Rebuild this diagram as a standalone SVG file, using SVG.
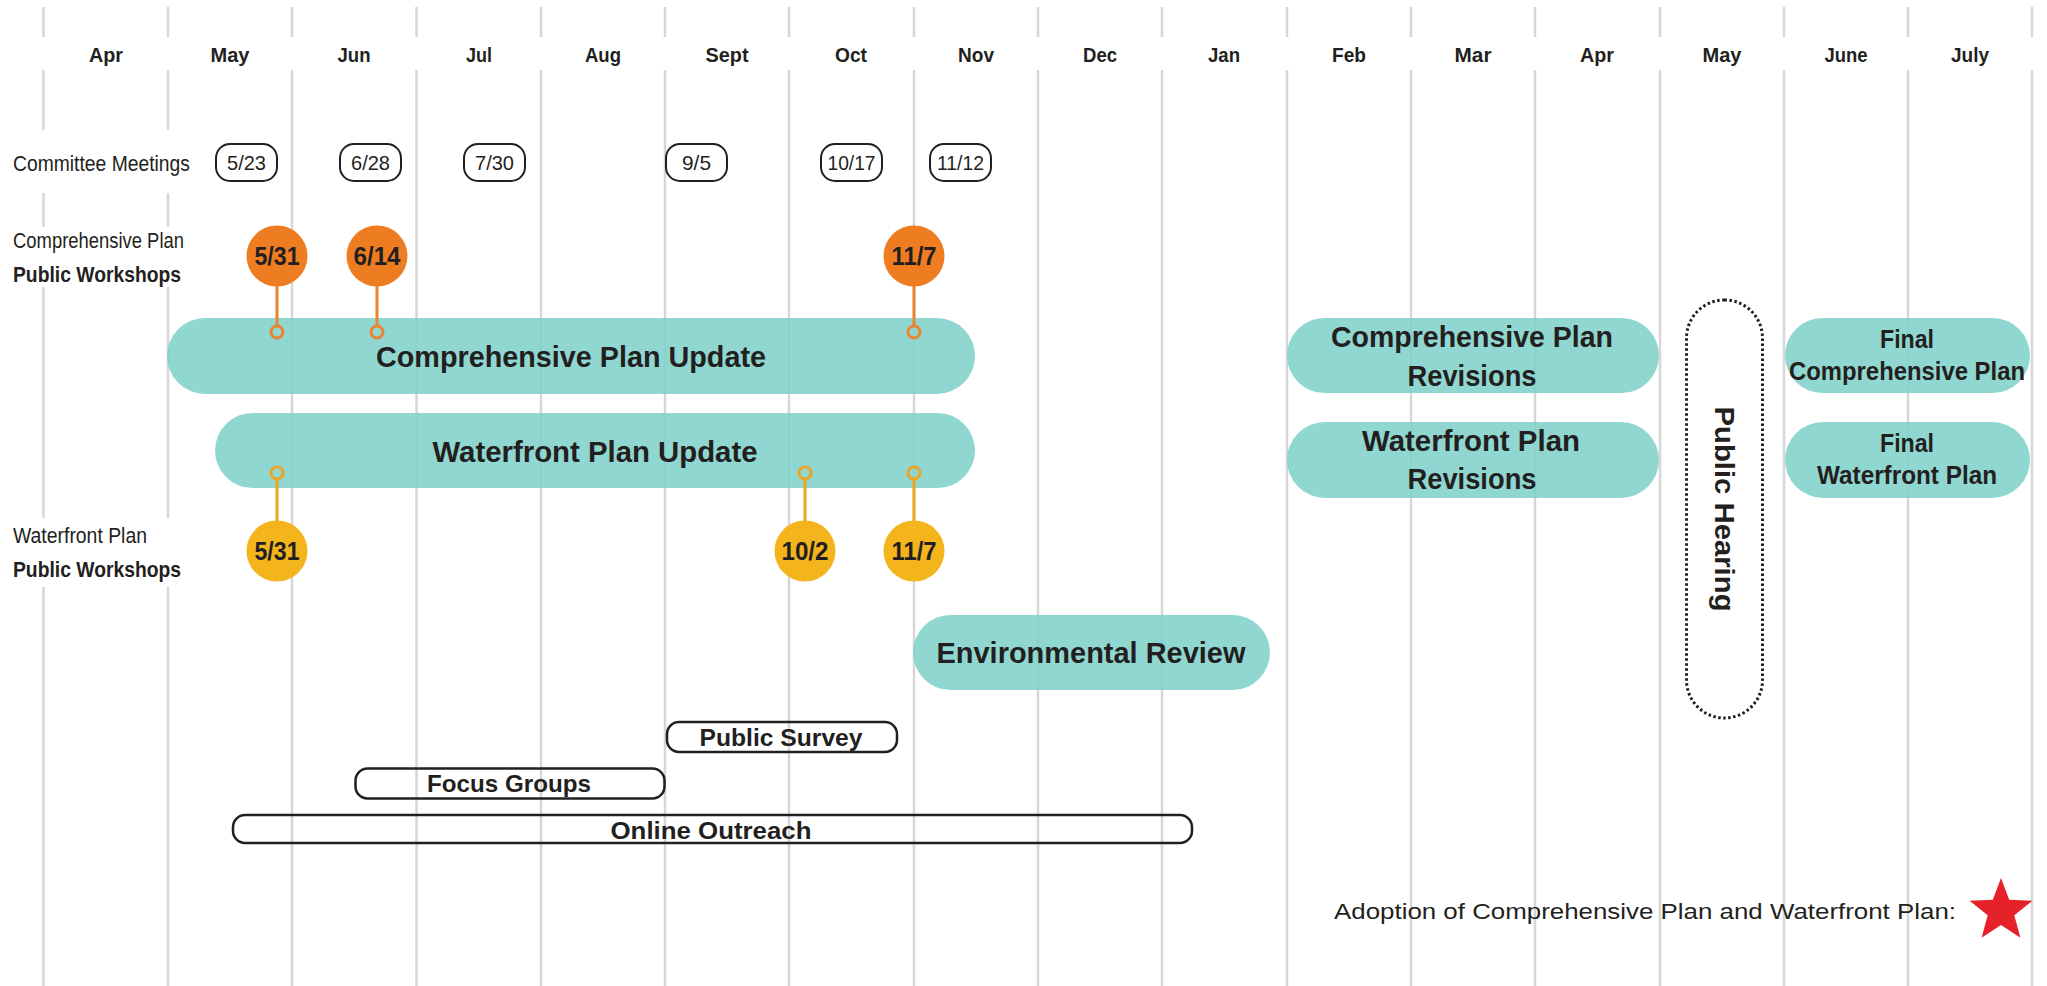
<svg xmlns="http://www.w3.org/2000/svg" width="2047" height="986" viewBox="0 0 2047 986">
<style>
.grid{stroke:#d6d6d6;stroke-width:2.5;fill:none}
.mon{font-family:"Liberation Sans",Arial,sans-serif;font-weight:bold;font-size:21px;fill:#231f20;text-anchor:middle}
.lbl{font-family:"Liberation Sans",Arial,sans-serif;font-size:22px;fill:#231f20}
.lblb{font-family:"Liberation Sans",Arial,sans-serif;font-weight:bold;font-size:22px;fill:#231f20}
.cm{fill:#fff;stroke:#231f20;stroke-width:2}
.cmt{font-family:"Liberation Sans",Arial,sans-serif;font-size:21px;fill:#231f20;text-anchor:middle}
.oc{fill:#ee7d22}
.yc{fill:#f3b41c}
.dt{font-family:"Liberation Sans",Arial,sans-serif;font-weight:bold;font-size:25px;fill:#231f20;text-anchor:middle}
.teal{fill:#80d2ca;fill-opacity:0.88}
.tt{font-family:"Liberation Sans",Arial,sans-serif;font-weight:bold;font-size:30px;fill:#231f20;text-anchor:middle}
.ts{font-family:"Liberation Sans",Arial,sans-serif;font-weight:bold;font-size:25px;fill:#231f20;text-anchor:middle}
.op{fill:none;stroke:#231f20;stroke-width:2.5}
.ot{font-family:"Liberation Sans",Arial,sans-serif;font-weight:bold;font-size:24px;fill:#231f20;text-anchor:middle}
.ostem{stroke:#ea8431;stroke-width:3;fill:none}
.ystem{stroke:#eda522;stroke-width:3;fill:none}
</style>
<rect x="0" y="0" width="2047" height="986" fill="#fff"/>
<g id="grid">
<path class="grid" d="M43.5 7V37M43.5 70V130M43.5 193V227M43.5 287V518M43.5 587V986"/>
<path class="grid" d="M168 7V37M168 70V130M168 193V227M168 287V518M168 587V986"/>
<path class="grid" d="M292 7V37M292 70V986M416.5 7V37M416.5 70V986M541 7V37M541 70V986M665 7V37M665 70V986M789 7V37M789 70V986M914 7V37M914 70V986M1038 7V37M1038 70V986M1162 7V37M1162 70V986M1287 7V37M1287 70V986M1411 7V37M1411 70V986M1535 7V37M1535 70V986M1660 7V37M1660 70V986M1784 7V37M1784 70V986M1908 7V37M1908 70V986M2032 7V37M2032 70V986"/>
</g>
<g id="months">
<text class="mon" x="106" y="62" textLength="34" lengthAdjust="spacingAndGlyphs">Apr</text>
<text class="mon" x="230" y="62" textLength="39" lengthAdjust="spacingAndGlyphs">May</text>
<text class="mon" x="354" y="62" textLength="33" lengthAdjust="spacingAndGlyphs">Jun</text>
<text class="mon" x="479" y="62" textLength="26" lengthAdjust="spacingAndGlyphs">Jul</text>
<text class="mon" x="603" y="62" textLength="36" lengthAdjust="spacingAndGlyphs">Aug</text>
<text class="mon" x="727" y="62" textLength="43" lengthAdjust="spacingAndGlyphs">Sept</text>
<text class="mon" x="851" y="62" textLength="32" lengthAdjust="spacingAndGlyphs">Oct</text>
<text class="mon" x="976" y="62" textLength="36" lengthAdjust="spacingAndGlyphs">Nov</text>
<text class="mon" x="1100" y="62" textLength="34" lengthAdjust="spacingAndGlyphs">Dec</text>
<text class="mon" x="1224" y="62" textLength="32" lengthAdjust="spacingAndGlyphs">Jan</text>
<text class="mon" x="1349" y="62" textLength="34" lengthAdjust="spacingAndGlyphs">Feb</text>
<text class="mon" x="1473" y="62" textLength="37" lengthAdjust="spacingAndGlyphs">Mar</text>
<text class="mon" x="1597" y="62" textLength="34" lengthAdjust="spacingAndGlyphs">Apr</text>
<text class="mon" x="1722" y="62" textLength="39" lengthAdjust="spacingAndGlyphs">May</text>
<text class="mon" x="1846" y="62" textLength="43" lengthAdjust="spacingAndGlyphs">June</text>
<text class="mon" x="1970" y="62" textLength="38" lengthAdjust="spacingAndGlyphs">July</text>
</g>
<g id="row-labels">
<text class="lbl" x="13" y="171" textLength="177" lengthAdjust="spacingAndGlyphs">Committee Meetings</text>
<text class="lbl" x="13" y="248" textLength="171" lengthAdjust="spacingAndGlyphs">Comprehensive Plan</text>
<text class="lblb" x="13" y="282" textLength="168" lengthAdjust="spacingAndGlyphs">Public Workshops</text>
<text class="lbl" x="13" y="543" textLength="134" lengthAdjust="spacingAndGlyphs">Waterfront Plan</text>
<text class="lblb" x="13" y="577" textLength="168" lengthAdjust="spacingAndGlyphs">Public Workshops</text>
</g>
<g id="committee-meetings">
<g id="cm-0523"><rect class="cm" x="216" y="144" width="61" height="37" rx="14"/><text class="cmt" x="246.5" y="170" textLength="39" lengthAdjust="spacingAndGlyphs">5/23</text></g>
<g id="cm-0628"><rect class="cm" x="340" y="144" width="61" height="37" rx="14"/><text class="cmt" x="370.5" y="170" textLength="39" lengthAdjust="spacingAndGlyphs">6/28</text></g>
<g id="cm-0730"><rect class="cm" x="464" y="144" width="61" height="37" rx="14"/><text class="cmt" x="494.5" y="170" textLength="39" lengthAdjust="spacingAndGlyphs">7/30</text></g>
<g id="cm-0905"><rect class="cm" x="666" y="144" width="61" height="37" rx="14"/><text class="cmt" x="696.5" y="170" textLength="29" lengthAdjust="spacingAndGlyphs">9/5</text></g>
<g id="cm-1017"><rect class="cm" x="821" y="144" width="61" height="37" rx="14"/><text class="cmt" x="851.5" y="170" textLength="48" lengthAdjust="spacingAndGlyphs">10/17</text></g>
<g id="cm-1112"><rect class="cm" x="930" y="144" width="61" height="37" rx="14"/><text class="cmt" x="960.5" y="170" textLength="47" lengthAdjust="spacingAndGlyphs">11/12</text></g>
</g>
<g id="comp-plan-update"><rect class="teal" x="167" y="318" width="808" height="76" rx="38"/><text class="tt" x="571" y="367" textLength="390" lengthAdjust="spacingAndGlyphs">Comprehensive Plan Update</text></g>
<g id="waterfront-plan-update"><rect class="teal" x="215" y="413" width="760" height="75" rx="37.5"/><text class="tt" x="595" y="462" textLength="325" lengthAdjust="spacingAndGlyphs">Waterfront Plan Update</text></g>
<g id="environmental-review"><rect class="teal" x="913" y="615" width="357" height="75" rx="37.5"/><text class="tt" x="1091" y="663" textLength="309" lengthAdjust="spacingAndGlyphs">Environmental Review</text></g>
<g id="comp-plan-revisions"><rect class="teal" x="1287" y="318" width="372" height="75" rx="37.5"/><text class="tt" x="1472" y="347" textLength="282" lengthAdjust="spacingAndGlyphs">Comprehensive Plan</text><text class="tt" x="1472" y="386" textLength="129" lengthAdjust="spacingAndGlyphs">Revisions</text></g>
<g id="waterfront-plan-revisions"><rect class="teal" x="1287" y="422" width="372" height="76" rx="38"/><text class="tt" x="1471" y="451" textLength="218" lengthAdjust="spacingAndGlyphs">Waterfront Plan</text><text class="tt" x="1472" y="489" textLength="129" lengthAdjust="spacingAndGlyphs">Revisions</text></g>
<g id="final-comp-plan"><rect class="teal" x="1785" y="318" width="245" height="75" rx="37.5"/><text class="ts" x="1907" y="348" textLength="54" lengthAdjust="spacingAndGlyphs">Final</text><text class="ts" x="1907" y="380" textLength="236" lengthAdjust="spacingAndGlyphs">Comprehensive Plan</text></g>
<g id="final-waterfront-plan"><rect class="teal" x="1785" y="422" width="245" height="76" rx="38"/><text class="ts" x="1907" y="452" textLength="54" lengthAdjust="spacingAndGlyphs">Final</text><text class="ts" x="1907" y="484" textLength="180" lengthAdjust="spacingAndGlyphs">Waterfront Plan</text></g>
<g id="public-hearing"><rect x="1686.5" y="300" width="76" height="418" rx="38" fill="#fff" stroke="#231f20" stroke-width="3" stroke-dasharray="2.5 2.5"/><text x="0" y="0" transform="translate(1715 509) rotate(90)" font-family="Liberation Sans, Arial, sans-serif" font-weight="bold" font-size="28" fill="#231f20" text-anchor="middle" textLength="205" lengthAdjust="spacingAndGlyphs">Public Hearing</text></g>
<g id="connectors">
<path class="ostem" d="M277 286V326M377 286V326M914 286V326"/>
<circle class="ostem" cx="277" cy="332" r="6"/>
<circle class="ostem" cx="377" cy="332" r="6"/>
<circle class="ostem" cx="914" cy="332" r="6"/>
<path class="ystem" d="M277 479V521M805 479V521M914 479V521"/>
<circle class="ystem" cx="277" cy="473" r="6"/>
<circle class="ystem" cx="805" cy="473" r="6"/>
<circle class="ystem" cx="914" cy="473" r="6"/>
</g>
<g id="comp-workshops">
<g id="cw-0531"><circle class="oc" cx="277" cy="256" r="30.5"/><text class="dt" x="277" y="265" textLength="45" lengthAdjust="spacingAndGlyphs">5/31</text></g>
<g id="cw-0614"><circle class="oc" cx="377" cy="256" r="30.5"/><text class="dt" x="377" y="265" textLength="47" lengthAdjust="spacingAndGlyphs">6/14</text></g>
<g id="cw-1107"><circle class="oc" cx="914" cy="256" r="30.5"/><text class="dt" x="914" y="265" textLength="45" lengthAdjust="spacingAndGlyphs">11/7</text></g>
</g>
<g id="waterfront-workshops">
<g id="ww-0531"><circle class="yc" cx="277" cy="551" r="30.5"/><text class="dt" x="277" y="560" textLength="45" lengthAdjust="spacingAndGlyphs">5/31</text></g>
<g id="ww-1002"><circle class="yc" cx="805" cy="551" r="30.5"/><text class="dt" x="805" y="560" textLength="47" lengthAdjust="spacingAndGlyphs">10/2</text></g>
<g id="ww-1107"><circle class="yc" cx="914" cy="551" r="30.5"/><text class="dt" x="914" y="560" textLength="45" lengthAdjust="spacingAndGlyphs">11/7</text></g>
</g>
<g id="public-survey"><rect class="op" x="667" y="722" width="230" height="30" rx="12"/><text class="ot" x="781" y="746" textLength="163" lengthAdjust="spacingAndGlyphs">Public Survey</text></g>
<g id="focus-groups"><rect class="op" x="355.5" y="768.5" width="309" height="30" rx="12"/><text class="ot" x="509" y="792" textLength="164" lengthAdjust="spacingAndGlyphs">Focus Groups</text></g>
<g id="online-outreach"><rect class="op" x="233" y="815" width="959" height="28" rx="12"/><text class="ot" x="711" y="839" textLength="201" lengthAdjust="spacingAndGlyphs">Online Outreach</text></g>
<g id="legend">
<text class="lbl" x="1334" y="919" font-size="25" textLength="622" lengthAdjust="spacingAndGlyphs">Adoption of Comprehensive Plan and Waterfront Plan:</text>
<polygon fill="#e52129" points="2001,878 2009.2,899.7 2032.4,900.8 2014.3,915.3 2020.4,937.7 2001,925 1981.6,937.7 1987.7,915.3 1969.6,900.8 1992.8,899.7"/>
</g>
</svg>
